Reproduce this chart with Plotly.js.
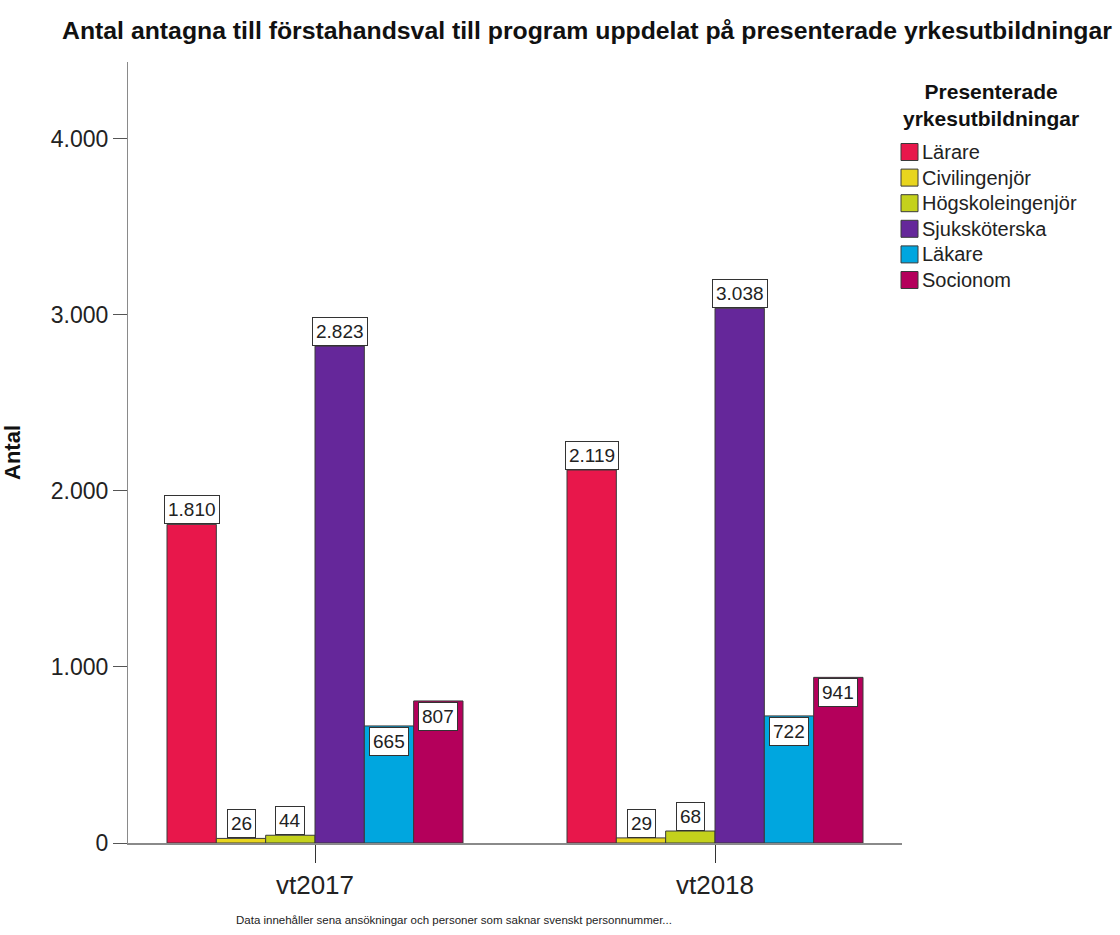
<!DOCTYPE html>
<html>
<head>
<meta charset="utf-8">
<script src="https://cdn.plot.ly/plotly-3.0.1.min.js"></script>
<style>html,body{margin:0;padding:0;background:#fff;}#chart{width:1120px;height:935px;}</style>
</head>
<body>
<div id="chart"></div>
<script>
// ---- data ----
const categories = ["vt2017", "vt2018"];
const seriesNames = ["Lärare", "Civilingenjör", "Högskoleingenjör", "Sjuksköterska", "Läkare", "Socionom"];
const larare = [1810, 2119];
const civilingenjor = [26, 29];
const hogskoleingenjor = [44, 68];
const sjukskoterska = [2823, 3038];
const lakare = [665, 722];
const socionom = [807, 941];
const yTickValues = [0, 1000, 2000, 3000, 4000];

const seriesValues = [larare, civilingenjor, hogskoleingenjor, sjukskoterska, lakare, socionom];
const colors = ["#E8174B", "#E8D51E", "#C4D11C", "#65279A", "#00A6DF", "#B4005B"];
const insideLabelSeries = ["Läkare", "Socionom"];

const bargap = 0.26;
const nSeries = seriesNames.length;
const barW = (1 - bargap) / nSeries;

// plot geometry (pixels) used to place the hand-drawn legend
const M = { l: 128, r: 218, t: 62, b: 92 };
const W = 1120, H = 935;
const plotW = W - M.l - M.r, plotH = H - M.t - M.b;
const px2x = px => (px - M.l) / plotW;
const py2y = py => (H - M.b - py) / plotH;

function fmt(v) {
  return String(v).replace(/\B(?=(\d{3})+(?!\d))/g, ".");
}

const FONT = "Arial, 'Liberation Sans', sans-serif";

const traces = seriesNames.map((name, j) => ({
  type: "bar",
  name: name,
  x: categories,
  y: seriesValues[j],
  marker: { color: colors[j], line: { color: "#3a3a3a", width: 1 } },
  showlegend: false
}));

const annotations = [];
seriesNames.forEach((name, j) => {
  const inside = insideLabelSeries.indexOf(name) >= 0;
  seriesValues[j].forEach((v, i) => {
    annotations.push({
      x: i + (j - (nSeries - 1) / 2) * barW,
      y: v,
      xref: "x", yref: "y",
      text: fmt(v),
      showarrow: false,
      xanchor: "center",
      yanchor: inside ? "top" : "bottom",
      yshift: inside ? -1 : 0,
      font: { family: FONT, size: 19, color: "#222" },
      bgcolor: "#ffffff",
      bordercolor: "#333333",
      borderwidth: 1,
      borderpad: 3
    });
  });
});

// footnote
annotations.push({
  xref: "paper", yref: "paper",
  x: px2x(454), y: py2y(920),
  xanchor: "center", yanchor: "middle",
  text: "Data innehåller sena ansökningar och personer som saknar svenskt personnummer...",
  showarrow: false,
  font: { family: FONT, size: 11.5, color: "#222" }
});

// legend (drawn with shapes + annotations to match the reference swatches)
const shapes = [];
annotations.push({
  xref: "paper", yref: "paper",
  x: px2x(991), y: py2y(105),
  xanchor: "center", yanchor: "middle",
  text: "<b>Presenterade<br>yrkesutbildningar</b>",
  showarrow: false,
  font: { family: FONT, size: 21, color: "#111" }
});
seriesNames.forEach((name, j) => {
  const cy = 152 + j * 25.6;
  shapes.push({
    type: "rect", xref: "paper", yref: "paper",
    x0: px2x(901), x1: px2x(918),
    y0: py2y(cy + 8.5), y1: py2y(cy - 8.5),
    fillcolor: colors[j],
    line: { color: "#3a3a3a", width: 1 }
  });
  annotations.push({
    xref: "paper", yref: "paper",
    x: px2x(920), y: py2y(cy),
    xanchor: "left", yanchor: "middle",
    text: name,
    showarrow: false,
    font: { family: FONT, size: 20, color: "#222" }
  });
});

const layout = {
  width: W, height: H,
  margin: { l: M.l, r: M.r, t: M.t, b: M.b, pad: 0 },
  paper_bgcolor: "#ffffff",
  plot_bgcolor: "#ffffff",
  separators: ",.",
  barmode: "group",
  bargap: bargap,
  bargroupgap: 0,
  font: { family: FONT, color: "#222" },
  title: {
    text: "<b>Antal antagna till förstahandsval till program uppdelat på presenterade yrkesutbildningar</b>",
    xref: "container", yref: "container",
    x: 587 / W, xanchor: "center",
    y: 1 - 30 / H, yanchor: "middle",
    font: { family: FONT, size: 24.8, color: "#111" }
  },
  xaxis: {
    type: "category",
    range: [-0.4675, 1.4675],
    showline: true, linecolor: "#8a8a8a", linewidth: 2,
    ticks: "outside", ticklen: 18, tickwidth: 1, tickcolor: "#333",
    tickfont: { family: FONT, size: 26, color: "#222" },
    showgrid: false, zeroline: false, fixedrange: true
  },
  yaxis: {
    range: [0, 4437],
    tickvals: yTickValues,
    tickformat: ",d",
    showline: true, linecolor: "#8a8a8a", linewidth: 1,
    ticks: "outside", ticklen: 14, tickwidth: 1, tickcolor: "#555",
    tickfont: { family: FONT, size: 23, color: "#222" },
    showgrid: false, zeroline: false, fixedrange: true,
    title: { text: "<b>Antal</b>", standoff: 52, font: { family: FONT, size: 22, color: "#111" } }
  },
  shapes: shapes,
  annotations: annotations,
  showlegend: false
};

Plotly.newPlot("chart", traces, layout, { displayModeBar: false, staticPlot: true });
</script>
</body>
</html>
